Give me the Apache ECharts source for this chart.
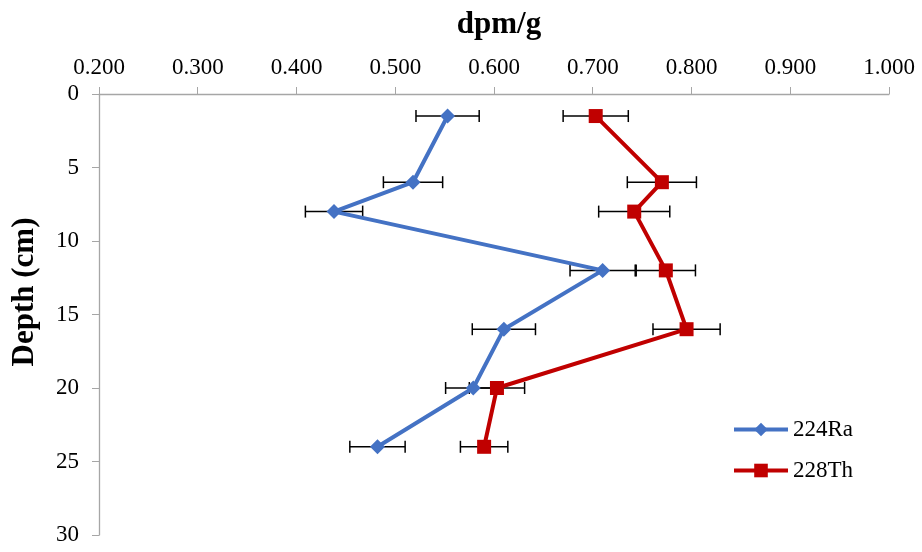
<!DOCTYPE html>
<html>
<head>
<meta charset="utf-8">
<script src="https://cdn.jsdelivr.net/npm/echarts@6/dist/echarts.min.js"></script>
<style>
  html, body { margin: 0; padding: 0; background: #fff; }
  #main { width: 922px; height: 552px; }
</style>
</head>
<body>
<div id="main"></div>
<script>
var depth = [1.5, 6, 8, 12, 16, 20, 24];
var ra224 = [0.553, 0.518, 0.438, 0.710, 0.610, 0.579, 0.482];
var ra224Err = [0.032, 0.030, 0.029, 0.033, 0.032, 0.028, 0.028];
var th228 = [0.703, 0.770, 0.742, 0.774, 0.795, 0.603, 0.590];
var th228Err = [0.033, 0.035, 0.036, 0.030, 0.034, 0.028, 0.024];

var font = '"Liberation Serif", "Times New Roman", serif';

function pairs(xs) {
    return xs.map(function (v, i) { return [v, depth[i]]; });
}
function errData(xs, es) {
    return xs.map(function (v, i) { return [v - es[i], v + es[i], depth[i]]; });
}
// horizontal error bars with caps
function renderErr(params, api) {
    var p1 = api.coord([api.value(0), api.value(2)]);
    var p2 = api.coord([api.value(1), api.value(2)]);
    var cap = 6;
    var st = { stroke: '#000', lineWidth: 1.5 };
    return {
        type: 'group',
        children: [
            { type: 'line', shape: { x1: p1[0], y1: p1[1], x2: p2[0], y2: p2[1] }, style: st },
            { type: 'line', shape: { x1: p1[0], y1: p1[1] - cap, x2: p1[0], y2: p1[1] + cap }, style: st },
            { type: 'line', shape: { x1: p2[0], y1: p2[1] - cap, x2: p2[0], y2: p2[1] + cap }, style: st }
        ]
    };
}

var myChart = echarts.init(document.getElementById('main'));
var option = {
    animation: false,
    textStyle: { fontFamily: font },
    grid: { left: 99, top: 94, width: 790, height: 441, containLabel: false, outerBoundsMode: 'none' },
    legend: {
        orient: 'vertical',
        left: 732,
        top: 418,
        padding: 0,
        itemWidth: 54,
        itemHeight: 17,
        itemGap: 18,
        lineStyle: { width: 4 },
        data: ['224Ra', '228Th'],
        textStyle: { fontFamily: font, fontSize: 23, color: '#000' }
    },
    xAxis: {
        type: 'value',
        position: 'top',
        min: 0.2,
        max: 1.0,
        interval: 0.1,
        name: 'dpm/g',
        nameLocation: 'middle',
        nameGap: 54,
        nameTextStyle: { fontFamily: font, fontSize: 31, fontWeight: 'bold', color: '#000', padding: [0, 0, 0, 10] },
        axisLine: { lineStyle: { color: '#a6a6a6', width: 1.3 } },
        axisTick: { length: 7, lineStyle: { color: '#a6a6a6' } },
        splitLine: { show: false },
        axisLabel: {
            fontFamily: font, fontSize: 23, color: '#000', margin: 15,
            formatter: function (v) { return v.toFixed(3); }
        }
    },
    yAxis: {
        type: 'value',
        inverse: true,
        min: 0,
        max: 30,
        interval: 5,
        axisLine: { show: true, lineStyle: { color: '#a6a6a6', width: 1.3 } },
        axisTick: { show: true, length: 7, lineStyle: { color: '#a6a6a6' } },
        splitLine: { show: false },
        axisLabel: { fontFamily: font, fontSize: 23, color: '#000', margin: 20 }
    },
    graphic: [{
        type: 'text',
        x: 25,
        y: 292,
        rotation: Math.PI / 2,
        style: {
            text: 'Depth (cm)',
            fontFamily: font,
            fontSize: 31,
            fontWeight: 'bold',
            fill: '#000',
            align: 'center',
            verticalAlign: 'middle'
        }
    }],
    series: [
        {
            type: 'custom',
            renderItem: renderErr,
            data: errData(ra224, ra224Err),
            encode: { x: [0, 1], y: 2 },
            z: 1
        },
        {
            type: 'custom',
            renderItem: renderErr,
            data: errData(th228, th228Err),
            encode: { x: [0, 1], y: 2 },
            z: 1
        },
        {
            name: '224Ra',
            type: 'line',
            data: pairs(ra224),
            symbol: 'diamond',
            symbolSize: 15,
            lineStyle: { color: '#4472C4', width: 4 },
            itemStyle: { color: '#4472C4' },
            z: 3
        },
        {
            name: '228Th',
            type: 'line',
            data: pairs(th228),
            symbol: 'rect',
            symbolSize: 14,
            lineStyle: { color: '#C00000', width: 4 },
            itemStyle: { color: '#C00000' },
            z: 3
        }
    ]
};
myChart.setOption(option);
</script>
</body>
</html>
